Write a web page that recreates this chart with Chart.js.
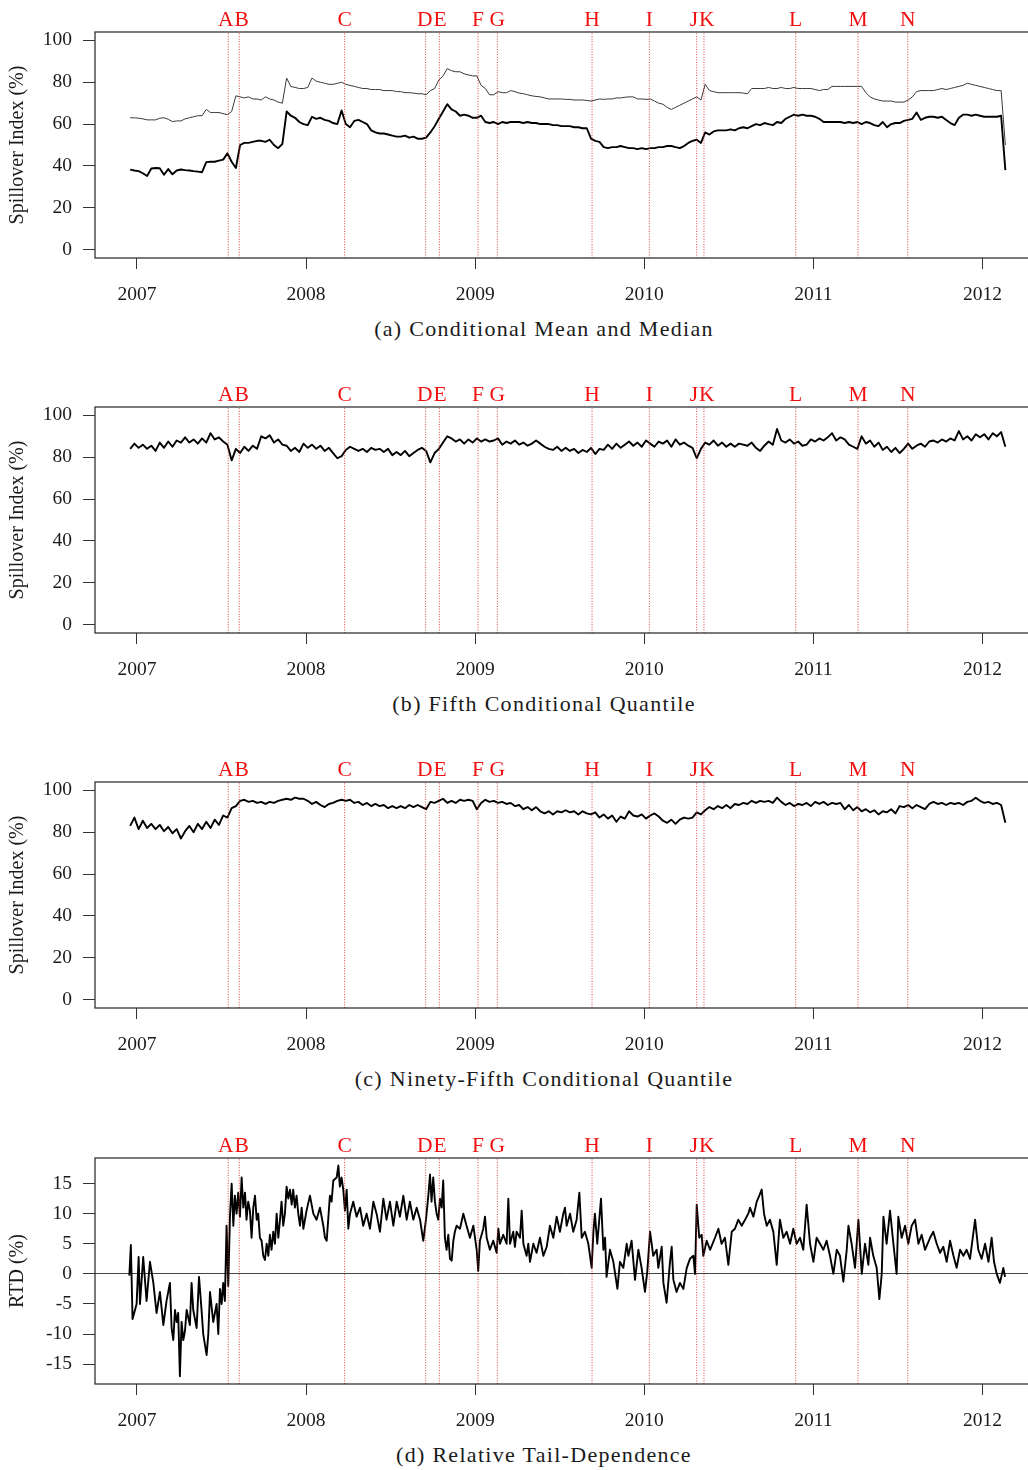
<!DOCTYPE html>
<html>
<head>
<meta charset="utf-8">
<script src="https://cdn.jsdelivr.net/npm/chart.js@4.4.1/dist/chart.umd.min.js"></script>
<style>
html, body { margin: 0; padding: 0; background: #fff; overflow: hidden; width: 1028px; height: 1470px; }
.panel { position: absolute; left: 0; width: 1045px; height: 360px; }
.panel canvas { position: absolute; left: 0; top: 0; }
.cap { position: absolute; left: 0; width: 1088px; top: 316px; line-height: 26px; text-align: center;
       font: 22px "Liberation Serif", serif; letter-spacing: 1.3px; color: #1a1a1a; }
</style>
</head>
<body>
<div class="panel" style="top:0px"><canvas id="pa" width="1045" height="300"></canvas><div class="cap">(a) Conditional Mean and Median</div></div>
<div class="panel" style="top:374.6px"><canvas id="pb" width="1045" height="300"></canvas><div class="cap">(b) Fifth Conditional Quantile</div></div>
<div class="panel" style="top:750.3px"><canvas id="pc" width="1045" height="300"></canvas><div class="cap">(c) Ninety-Fifth Conditional Quantile</div></div>
<div class="panel" style="top:1125.7px"><canvas id="pd" width="1045" height="300"></canvas><div class="cap">(d) Relative Tail-Dependence</div></div>
<script>
// sampling of the daily series (decimal years), roughly every 9 days
const start = 2006.96
const step = 0.025
const count = 208
const dates = []
for (let i = 0; i < count; i++) dates.push(+(start + i * step).toFixed(3))

const years = [2007, 2008, 2009, 2010, 2011, 2012]
const spillTicks = [0, 20, 40, 60, 80, 100]
const rtdTicks = [-15, -10, -5, 0, 5, 10, 15]

const eventNames = ["A", "B", "C", "D", "E", "F", "G", "H", "I", "J", "K", "L", "M", "N"]
const eventDates = [2007.540, 2007.605, 2008.228, 2008.707, 2008.788, 2009.017, 2009.131,
  2009.691, 2010.030, 2010.310, 2010.353, 2010.895, 2011.264, 2011.558]

// (a) conditional mean (thin) and median (thick)
const condMean = [
  63, 63, 62.8, 62.5, 62, 62, 62, 62.8, 63, 62.3,
  61.2, 61.5, 61.5, 62.5, 63, 63.5, 64, 64, 67, 65.5,
  65.5, 65.5, 65, 64.5, 66, 73.5, 73, 72.5, 73, 72,
  72, 71.5, 73, 72, 71.5, 70.5, 70, 82, 78, 77.5,
  77, 77, 77.5, 82, 80.5, 80, 79.5, 79, 79, 79.5,
  80, 79, 78.5, 78, 77.5, 77, 77, 76.5, 76.5, 76.5,
  76, 76, 76, 75.5, 75.5, 75, 75, 74.8, 74.5, 74.5,
  74, 76, 77, 81, 83, 86.5, 85.5, 85, 85, 84,
  83.5, 83, 83, 78.5, 77, 74, 74, 75.5, 75, 75,
  76, 75.5, 74.8, 74.5, 74, 73.5, 73.2, 73, 72.5, 72,
  72, 72, 72, 71.8, 71.8, 71.5, 71.5, 71.5, 71.3, 71,
  71.5, 72, 71.8, 72, 72, 72.5, 72.5, 72.8, 73, 73,
  72, 72, 71.8, 72, 71, 70, 69.5, 68, 67, 68,
  69, 70, 71, 72, 73, 71.5, 79, 76, 75.5, 75,
  75, 75, 75, 75, 75, 74.8, 74.5, 77, 77, 77,
  77, 77.5, 77, 77, 77.5, 77, 77, 77.5, 77, 77,
  77, 77, 76.5, 76, 76.5, 76.5, 78, 78, 78, 78,
  78, 78, 78, 78, 75, 73, 72, 71.5, 71, 71,
  71, 70.5, 70.5, 70.5, 71.5, 73, 75.5, 76, 76, 76,
  76, 76.5, 77, 76.5, 77, 77.5, 78, 78.5, 79.5, 79,
  78.5, 78, 77.5, 77, 76.5, 76, 76, 50
]
const condMedian = [
  38.2, 37.8, 37.5, 36.5, 35.2, 38.8, 39, 38.9, 35.8, 38.5,
  36, 37.8, 38.3, 38, 37.8, 37.5, 37.3, 37, 41.8, 42,
  42, 42.5, 43, 46, 42, 39, 50, 51, 51, 51.5,
  52, 52, 51.5, 52.5, 50, 48.5, 50.5, 66, 64, 63,
  61, 60, 59.5, 63.5, 62.5, 63, 62, 61.5, 60.5, 60,
  66.5, 60, 58.5, 61.5, 62, 61, 60, 57, 56, 55.5,
  55.5, 55, 54.5, 54, 54, 54.5, 53.5, 54, 53, 53,
  53.5, 56, 59, 62.5, 66, 69.5, 67, 66, 64, 64.5,
  64, 63, 63, 64, 61, 60.5, 61, 60, 61, 60.5,
  61, 61, 61, 60.5, 61, 60.5, 60.5, 60, 60, 60,
  59.5, 59.5, 59, 59, 59, 58.5, 58.5, 58, 58, 53,
  52, 51.5, 49, 48.5, 49, 49, 49.5, 49, 48.5, 48.5,
  48, 48.5, 48, 48.5, 48.5, 49, 49, 49.5, 49.5, 49,
  48.5, 49.5, 51, 52, 52.5, 51, 56, 55, 56.5, 57,
  57, 57, 57.5, 57, 58, 58.5, 58, 59, 60, 59.5,
  60.5, 60, 59.5, 61, 60.5, 62.5, 63.5, 64.5, 64, 64.5,
  64, 64, 63.5, 62.5, 61, 61, 61, 61, 61, 60.5,
  61, 60.5, 61, 60, 61, 60.5, 59.5, 59, 61, 58.5,
  60, 60.5, 60.5, 61.5, 62, 62.5, 65.5, 62, 63, 63.5,
  63.5, 63, 63.5, 62, 60.5, 59.5, 63, 64.5, 64.5, 64,
  64.5, 64, 63.5, 63.5, 63.5, 63.5, 64, 38
]

// (b) fifth conditional quantile
const q05 = [
  84, 86.5, 84.5, 86, 84, 85.5, 83, 87, 84.5, 87.5,
  85, 88, 87, 89.5, 87, 88.5, 86.5, 89, 87, 91.5,
  88.5, 89.5, 87.5, 86, 78.5, 84, 82, 85, 83, 85.5,
  84, 90, 89, 90.5, 87, 88.5, 86, 85.5, 83, 84.5,
  82.5, 86.5, 84.5, 86, 84, 85.5, 83, 84.5, 82, 79.5,
  80.5, 83.5, 85, 84, 83, 84, 82.5, 84.5, 83.5, 84,
  82.5, 84, 81, 82.5, 81, 83, 80.5, 82, 83.5, 84.5,
  83, 77.5, 82, 84, 87, 90, 89, 87.5, 88.5, 86.5,
  88.5, 87, 89, 87.5, 88.5, 87.5, 88, 89, 86, 87.5,
  86.5, 88, 86, 87, 85.5, 86.5, 88, 86.5, 85, 84,
  83.5, 85, 83, 84.5, 83, 84, 82, 83.5, 82.5, 84.5,
  81.5, 84, 83.5, 86, 84, 86.5, 84.5, 86, 87.5, 85.5,
  87, 85, 88, 86.5, 85, 87.5, 86.5, 88, 85, 88.5,
  86, 87, 85.5, 84.5, 79.5, 84, 87, 86, 88, 85.5,
  87, 85, 86.5, 85, 86.5, 86, 85.5, 87, 84.5, 83,
  85.5, 87.5, 86, 93.5, 88, 87, 88.5, 86.5, 87.5, 85.5,
  86, 88.5, 87.5, 89, 88, 89.5, 91.5, 88, 89.5, 88.5,
  86, 85, 84, 90, 86.5, 88, 85, 87, 83.5, 85,
  82.5, 84.5, 82, 84, 86.5, 84, 85.5, 86.5, 85, 87.5,
  88, 87, 88.5, 87.5, 89, 88, 92.5, 88.5, 90, 88,
  91, 89.5, 91, 88.5, 91.5, 90, 92, 85
]

// (c) ninety-fifth conditional quantile
const q95 = [
  83, 87, 81.5, 85.5, 82, 84, 81.5, 83.5, 80.5, 82.5,
  79.5, 81.5, 77, 80.5, 83, 80, 84, 81.5, 85, 82,
  86, 83.5, 88, 87, 91.5, 92.5, 95, 95.5, 94.5, 95,
  94, 94.5, 93.5, 94.5, 94, 95, 95.5, 96, 95.5, 96.5,
  96, 96, 95, 93.5, 94.5, 93, 92, 93.5, 94, 95,
  95.5, 95, 95.5, 94, 94.5, 93, 94, 92.5, 93.5, 92.5,
  93, 91.5, 92.5, 91.5, 92.5, 91.5, 93, 92, 93, 92,
  91, 94.5, 94, 95, 96, 94, 95, 94, 95.5, 95,
  95.5, 95, 91, 94, 95.5, 94.5, 95, 94, 94.5, 93.5,
  94, 92.5, 93, 91, 92, 90.5, 92, 90, 89, 90,
  88.5, 90, 89.5, 90.5, 89.5, 90, 88.5, 90, 89, 88.5,
  89.5, 87, 88.5, 86.5, 88, 85, 87.5, 86.5, 90, 88,
  87.5, 88.5, 86.5, 88, 89, 87.5, 85.5, 84.5, 86, 84,
  86, 87, 86.5, 87, 89.5, 88.5, 90.5, 92, 91, 92.5,
  91.5, 93, 91.5, 93.5, 93, 94, 93.5, 95, 94, 95,
  94.5, 95, 94, 96.5, 94.5, 93, 94, 92.5, 93.5, 93,
  94, 92.5, 94.5, 93.5, 94.5, 93, 94, 93.5, 94, 91,
  93, 90.5, 92, 90, 91, 89.5, 90.5, 88.5, 90, 89.5,
  91, 89, 92.5, 92, 93, 91.5, 93, 92, 91, 93.5,
  94.5, 93.5, 94, 93, 94, 93.5, 94, 93, 94.5, 95,
  96.5, 95, 94, 94.5, 93.5, 94, 93, 84.5
]

// (d) relative tail-dependence, read at its own (denser) dates
const rtdDates = [
  2006.955, 2006.964, 2006.974, 2006.998, 2007.010, 2007.018, 2007.037, 2007.057, 2007.077, 2007.097,
  2007.116, 2007.136, 2007.156, 2007.175, 2007.195, 2007.205, 2007.215, 2007.225, 2007.235, 2007.244,
  2007.254, 2007.264, 2007.274, 2007.284, 2007.294, 2007.313, 2007.323, 2007.333, 2007.353, 2007.367,
  2007.382, 2007.392, 2007.412, 2007.422, 2007.432, 2007.451, 2007.471, 2007.481, 2007.491, 2007.501,
  2007.510, 2007.520, 2007.530, 2007.540, 2007.550, 2007.560, 2007.570, 2007.579, 2007.589, 2007.599,
  2007.609, 2007.619, 2007.629, 2007.639, 2007.648, 2007.658, 2007.668, 2007.678, 2007.688, 2007.698,
  2007.708, 2007.717, 2007.727, 2007.737, 2007.747, 2007.757, 2007.767, 2007.777, 2007.786, 2007.796,
  2007.806, 2007.816, 2007.826, 2007.836, 2007.846, 2007.855, 2007.865, 2007.875, 2007.885, 2007.895,
  2007.905, 2007.915, 2007.924, 2007.934, 2007.944, 2007.954, 2007.964, 2007.974, 2007.984, 2008.003,
  2008.023, 2008.043, 2008.062, 2008.082, 2008.102, 2008.112, 2008.122, 2008.131, 2008.141, 2008.151,
  2008.161, 2008.181, 2008.191, 2008.200, 2008.210, 2008.220, 2008.230, 2008.240, 2008.250, 2008.260,
  2008.279, 2008.299, 2008.319, 2008.338, 2008.358, 2008.378, 2008.398, 2008.417, 2008.437, 2008.457,
  2008.476, 2008.496, 2008.516, 2008.536, 2008.555, 2008.575, 2008.595, 2008.614, 2008.634, 2008.654,
  2008.674, 2008.693, 2008.709, 2008.723, 2008.733, 2008.742, 2008.752, 2008.762, 2008.772, 2008.782,
  2008.792, 2008.802, 2008.811, 2008.821, 2008.831, 2008.841, 2008.851, 2008.861, 2008.871, 2008.880,
  2008.890, 2008.910, 2008.930, 2008.949, 2008.969, 2008.989, 2009.009, 2009.018, 2009.028, 2009.048,
  2009.058, 2009.068, 2009.087, 2009.107, 2009.127, 2009.137, 2009.147, 2009.166, 2009.186, 2009.196,
  2009.206, 2009.225, 2009.235, 2009.245, 2009.265, 2009.275, 2009.285, 2009.304, 2009.314, 2009.324,
  2009.344, 2009.363, 2009.383, 2009.403, 2009.423, 2009.442, 2009.462, 2009.482, 2009.501, 2009.521,
  2009.531, 2009.541, 2009.561, 2009.580, 2009.600, 2009.616, 2009.630, 2009.649, 2009.669, 2009.689,
  2009.699, 2009.708, 2009.722, 2009.744, 2009.758, 2009.768, 2009.777, 2009.797, 2009.817, 2009.841,
  2009.856, 2009.876, 2009.896, 2009.906, 2009.925, 2009.945, 2009.965, 2009.984, 2010.004, 2010.018,
  2010.034, 2010.053, 2010.073, 2010.083, 2010.103, 2010.113, 2010.132, 2010.152, 2010.162, 2010.172,
  2010.191, 2010.211, 2010.231, 2010.251, 2010.270, 2010.290, 2010.300, 2010.310, 2010.325, 2010.339,
  2010.349, 2010.369, 2010.389, 2010.418, 2010.438, 2010.457, 2010.477, 2010.497, 2010.517, 2010.536,
  2010.556, 2010.576, 2010.596, 2010.615, 2010.625, 2010.645, 2010.665, 2010.680, 2010.694, 2010.708,
  2010.724, 2010.743, 2010.763, 2010.783, 2010.802, 2010.822, 2010.842, 2010.862, 2010.881, 2010.901,
  2010.921, 2010.940, 2010.960, 2010.980, 2011.000, 2011.019, 2011.039, 2011.059, 2011.078, 2011.098,
  2011.118, 2011.138, 2011.157, 2011.177, 2011.197, 2011.207, 2011.226, 2011.246, 2011.266, 2011.286,
  2011.305, 2011.325, 2011.335, 2011.354, 2011.374, 2011.390, 2011.404, 2011.414, 2011.433, 2011.453,
  2011.473, 2011.492, 2011.502, 2011.522, 2011.542, 2011.561, 2011.581, 2011.601, 2011.621, 2011.640,
  2011.660, 2011.690, 2011.709, 2011.729, 2011.749, 2011.768, 2011.788, 2011.808, 2011.828, 2011.847,
  2011.867, 2011.887, 2011.906, 2011.926, 2011.956, 2011.975, 2011.995, 2012.015, 2012.035, 2012.054,
  2012.068, 2012.084, 2012.103, 2012.123, 2012.133
]
const rtdValues = [
  -0.3, 4.8, -7.5, -5, 2.8, -5, 2.8, -4.5, 2, -1.5,
  -6.5, -3, -8.5, -4.5, -1.5, -9, -11, -6, -8, -6.5,
  -17, -8, -11, -9.5, -6, -8.5, -1.5, -6, -9, -0.5,
  -6, -10, -13.5, -10, -3, -8, -5, -10, -2.5, -5,
  -1.5, -4.5, 8, -2, 9.5, 15, 8, 13, 10, 13.5,
  9.5, 16, 11, 13.5, 9, 12, 10.5, 6, 11, 13,
  9, 10, 6, 5.5, 3, 2.3, 5, 3, 6.5, 4,
  7, 5, 10, 6, 9, 12, 8, 10, 14.5, 12.5,
  14, 11.5, 14, 11, 13, 10, 8, 11, 7.5, 10.5,
  13, 10, 9, 11, 8, 6, 5.5, 9, 13, 12,
  15.5, 16, 18, 14.5, 16, 14, 10.5, 14, 7.5, 10,
  12, 9.5, 11, 8, 10, 7.5, 12, 10, 7, 12.5,
  9, 12, 8, 12, 9.5, 13, 9, 12, 9, 11,
  9, 5.5, 9, 13, 16.5, 12, 16, 12, 10, 9,
  12.5, 11, 15.5, 6, 4, 6.5, 2.5, 2.2, 5.5, 7,
  8, 7.5, 10, 8, 6, 8, 4, 0.5, 5.5, 7.5,
  9.5, 6, 4, 5.5, 3.5, 7.5, 5, 6.5, 5, 12.5,
  5, 7, 4.5, 7, 6, 10.5, 5, 3, 5, 2,
  5, 3.5, 6, 3, 4.5, 8, 6, 9.5, 7, 10,
  11, 8, 10, 7, 9, 13.5, 6, 7, 5, 1,
  7, 10, 5, 12.5, 4, 6, -0.5, 4, 2, -2.5,
  2, 1, 5, 3, 5.5, -1, 4, 1, -3, 0.5,
  7, 3, 4, 1, 4.5, -1.5, -4.8, 2, 4.5, -1,
  -3, -1.5, -2.5, 1, 2.5, 3, 0, 11.5, 6, 6.5,
  3, 5.5, 4, 6, 7.5, 5, 6, 1.5, 7, 7.5,
  9, 8, 9, 10, 11, 9.5, 12, 13, 14, 10,
  8, 9, 7, 1.5, 9, 6, 7, 5, 7.5, 5,
  6, 4, 11.5, 5, 2, 6, 5, 4, 5.5, 3,
  0, 4, 3, -1.3, 4, 8, 5, 1, 9, 0,
  5, 1.5, 6, 3, 1, -4.2, 0, 9.5, 5, 10.5,
  5, 0, 9.5, 6, 8, 5, 8, 9, 5, 6.5,
  4, 6, 7, 5, 3.5, 4.5, 2, 5.5, 3, 1,
  4, 3, 4, 2.5, 9, 4, 2.5, 5, 2, 6,
  2, 0, -1.5, 1, -0.5
]

const serif = '"Liberation Serif", serif'
Chart.defaults.font.family = serif
const xMin = 2006.752
const xMax = 2012.328

const boxPlugin = {
  id: "box",
  afterDatasetsDraw(chart) {
    const { ctx, chartArea: a } = chart
    ctx.save()
    ctx.strokeStyle = "#333"
    ctx.lineWidth = 1.3
    ctx.strokeRect(a.left, a.top, a.right - a.left, a.bottom - a.top)
    ctx.restore()
  }
}

// event letters above the box, pushed apart a little where they would collide
const eventLabelPlugin = {
  id: "eventLabels",
  afterDraw(chart) {
    const { ctx, chartArea } = chart
    const xs = chart.scales.x
    ctx.save()
    ctx.fillStyle = "#f01010"
    ctx.font = "21.5px " + serif
    ctx.textAlign = "center"
    ctx.textBaseline = "alphabetic"
    const items = eventNames.map((name, k) => ({
      name, x: xs.getPixelForValue(eventDates[k]), w: ctx.measureText(name).width
    }))
    for (let k = 1; k < items.length; k++) {
      const a = items[k - 1], b = items[k]
      const overlap = (a.x + a.w / 2 + 1) - (b.x - b.w / 2)
      if (overlap > 0) { a.x -= overlap / 2; b.x += overlap / 2 }
    }
    items.forEach(it => ctx.fillText(it.name, it.x, chartArea.top - 6))
    ctx.restore()
  }
}

function seriesSet(xs, values, width, color) {
  return {
    data: values.map((v, i) => ({ x: xs[i], y: v })),
    borderColor: color,
    borderWidth: width,
    pointRadius: 0,
    tension: 0,
    borderJoinStyle: "round",
    fill: false
  }
}

function eventSets(yMin, yMax) {
  return eventDates.map(d => ({
    data: [{ x: d, y: yMin }, { x: d, y: yMax }],
    borderColor: "rgba(222,40,40,0.9)",
    borderWidth: 1,
    borderDash: [1, 1.6],
    pointRadius: 0
  }))
}

function makePanel(canvasId, lines, yMin, yMax, yTicks, yTitle, zeroLine) {
  new Chart(document.getElementById(canvasId), {
    type: "line",
    data: { datasets: eventSets(yMin, yMax).concat(lines) },
    options: {
      responsive: false,
      animation: false,
      devicePixelRatio: 1,
      events: [],
      layout: { padding: { left: 0, right: 7, top: 32, bottom: 0 } },
      plugins: { legend: { display: false }, tooltip: { enabled: false } },
      scales: {
        x: {
          type: "linear",
          min: xMin,
          max: xMax,
          afterBuildTicks: s => { s.ticks = years.map(v => ({ value: v })) },
          afterFit: s => { s.height = 42 },
          grid: { drawOnChartArea: false, drawTicks: true, tickLength: 11, tickColor: "#333", tickWidth: 1 },
          border: { display: false },
          ticks: {
            color: "#1a1a1a",
            font: { size: 19.5 },
            padding: 14,
            maxRotation: 0,
            autoSkip: false,
            callback: v => String(v)
          }
        },
        y: {
          type: "linear",
          min: yMin,
          max: yMax,
          afterBuildTicks: s => { s.ticks = yTicks.map(v => ({ value: v })) },
          afterFit: s => { s.width = 95 },
          grid: {
            drawOnChartArea: zeroLine,
            color: c => (c.tick && c.tick.value === 0 ? "#444" : "rgba(0,0,0,0)"),
            lineWidth: 1,
            tickColor: "#333",
            tickLength: 12
          },
          border: { display: false },
          ticks: {
            color: "#1a1a1a",
            font: { size: 19.5 },
            padding: 11,
            autoSkip: false,
            callback: v => String(v)
          },
          title: {
            display: true,
            text: yTitle,
            color: "#1a1a1a",
            font: { size: 20 },
            padding: { top: 5.5, bottom: 0 }
          }
        }
      }
    },
    plugins: [boxPlugin, eventLabelPlugin]
  })
}

makePanel("pa", [seriesSet(dates, condMean, 1, "#3a3a3a"), seriesSet(dates, condMedian, 1.9, "#000")],
  -4, 104, spillTicks, "Spillover Index (%)", false)
makePanel("pb", [seriesSet(dates, q05, 1.9, "#000")], -4, 104, spillTicks, "Spillover Index (%)", false)
makePanel("pc", [seriesSet(dates, q95, 1.9, "#000")], -4, 104, spillTicks, "Spillover Index (%)", false)
makePanel("pd", [seriesSet(rtdDates, rtdValues, 1.9, "#000")], -18.3, 19.25, rtdTicks, "RTD (%)", true)
</script>
</body>
</html>
